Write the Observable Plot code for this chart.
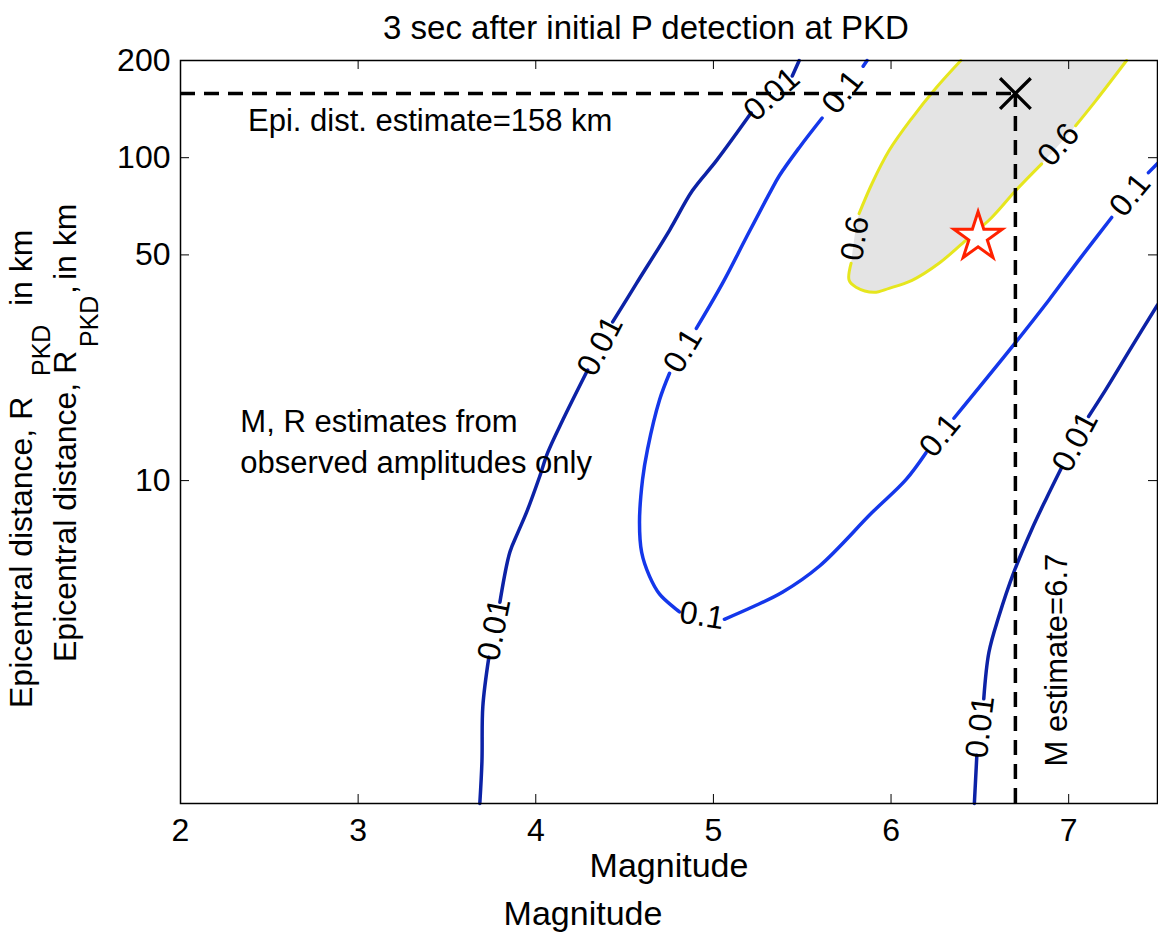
<!DOCTYPE html>
<html><head><meta charset="utf-8">
<script src="https://cdn.jsdelivr.net/npm/d3@7"></script>
<script src="https://cdn.jsdelivr.net/npm/@observablehq/plot@0.6"></script>
<style>body{margin:0;background:#fff;font-family:"Liberation Sans",Arial,Helvetica,sans-serif}</style>
</head><body><div id="chart"></div>
<script>
// ---------- data ----------
const titleText = "3 sec after initial P detection at PKD";
const xLabel = "Magnitude";
const xTicks = [2, 3, 4, 5, 6, 7];
const yTicks = [10, 50, 100, 200];
const xDomain = [2, 7.5];
const yDomain = [1, 200];

// contour polylines [magnitude, distance km]; null = gap where the level label sits
const contour001Left = [[3.685,1],[3.697,1.35],[3.702,2.0],[3.736,2.84],null,[3.798,4.2],[3.854,6.0],[3.899,6.9],[3.949,8.0],[4.022,10.3],[4.067,12.2],[4.152,15.4],[4.292,22.0],null,[4.433,31.0],[4.567,40.8],[4.753,59.6],[4.882,79.1],[5.017,97.9],[5.213,137.7],null,[5.444,179],[5.483,200]];
const contour01 = [[5.865,200],[5.843,192],null,[5.612,132.7],[5.483,107.4],[5.371,87.9],[5.315,77.4],[5.185,56.6],[5.051,40.8],[4.904,29.6],null,[4.753,21.5],[4.697,17.8],[4.629,12.5],[4.601,10.07],[4.584,7.42],[4.596,6.0],[4.640,5.06],[4.697,4.45],[4.809,3.92],null,[5.062,3.72],[5.219,4.06],[5.388,4.51],[5.596,5.43],[5.893,7.96],[6.084,10.07],[6.197,12.2],null,[6.354,15.6],[6.680,25.9],[6.888,36.2],[7.056,48.1],[7.242,65.3],null,[7.449,89.9],[7.5,96]];
const contour06 = [[6.393,200],[6.253,164.4],[6.118,132.7],[5.989,105.2],[5.893,83.2],[5.820,67.1],null,[5.775,47.1],[5.764,41.7],[5.803,39.7],[5.904,38.3],[5.989,39.4],[6.118,41.7],[6.270,47.1],[6.421,55.5],[6.567,65.3],[6.702,79.1],[6.848,95.7],null,[7.039,125.6],[7.152,150],[7.326,200]];
const contour001Right = [[6.469,1],[6.483,1.41],null,[6.522,2.11],[6.551,2.94],[6.607,3.80],[6.691,5.20],[6.792,7.06],[6.871,8.73],[6.961,11.0],null,[7.112,15.8],[7.208,19.1],[7.354,25.9],[7.5,35]];
const contourLevels = ["0.01", "0.1", "0.6", "0.01"];

const epiDist = 158;     // km
const magEst = 6.7;
const eventM = 6.49, eventR = 56.8;   // star

// ---------- layout ----------
const W = 1158, H = 935, mL = 180, mR = 1, mT = 60, mB = 132;
const plotW = W - mL - mR, plotH = H - mT - mB;
const font = "'Liberation Sans', Arial, Helvetica, sans-serif";

const xs = Plot.scale({x: {domain: xDomain, range: [mL, W - mR]}});
const ys = Plot.scale({y: {type: "log", domain: yDomain, range: [H - mB, mT]}});

const contours = [
  {pts: contour001Left, level: contourLevels[0], color: "#0c22a6"},
  {pts: contour01, level: contourLevels[1], color: "#1437ea"},
  {pts: contour06, level: contourLevels[2], color: "#e6e61e"},
  {pts: contour001Right, level: contourLevels[3], color: "#0c22a6"}
];

// label positions derived from gaps in each contour
const labels = [];
for (const c of contours) {
  c.pts.forEach((p, i) => {
    if (p !== null) return;
    const a = c.pts[i - 1], b = c.pts[i + 1];
    let ang = Math.atan2(ys.apply(b[1]) - ys.apply(a[1]), xs.apply(b[0]) - xs.apply(a[0])) * 180 / Math.PI;
    if (ang > 90) ang -= 180;
    if (ang < -90) ang += 180;
    labels.push({m: (a[0] + b[0]) / 2, r: Math.sqrt(a[1] * b[1]), text: c.level, angle: ang});
  });
}

const X = d => d ? d[0] : NaN;
const Y = d => d ? d[1] : NaN;

const chart = Plot.plot({
  width: W, height: H,
  marginLeft: mL, marginRight: mR, marginTop: mT, marginBottom: mB,
  style: {fontFamily: font, background: "white", color: "black", overflow: "visible"},
  x: {domain: xDomain},
  y: {type: "log", domain: yDomain},
  marks: [
    // gray fill of the 0.6 region
    Plot.line(contour06.filter(d => d), {x: X, y: Y, fill: "#e4e4e4", stroke: "none", curve: "catmull-rom"}),
    ...contours.map(c => Plot.line(c.pts, {x: X, y: Y, stroke: c.color, strokeWidth: c.level === "0.6" ? 3 : 3.5, strokeLinejoin: "round", curve: "catmull-rom"})),
    Plot.text(labels, {x: "m", y: "r", text: "text", rotate: "angle", fontSize: 32, fill: "black", textAnchor: "middle", lineAnchor: "middle"}),
    // estimate lines
    Plot.ruleY([epiDist], {x1: xDomain[0], x2: magEst, stroke: "black", strokeWidth: 3.5, strokeDasharray: "15,9"}),
    Plot.ruleX([magEst], {y1: yDomain[0], y2: epiDist, stroke: "black", strokeWidth: 3.5, strokeDasharray: "15,9"}),
    Plot.dot([[magEst, epiDist]], {x: X, y: Y, symbol: "times", r: 14, stroke: "black", strokeWidth: 3.3}),
    Plot.dot([[eventM, eventR]], {x: X, y: Y, symbol: "star", r: 15.2, stroke: "#ff2200", fill: "white", strokeWidth: 3}),
    // annotations
    Plot.text([`Epi. dist. estimate=${epiDist} km`], {x: 2.38, y: 130, textAnchor: "start", lineAnchor: "middle", fontSize: 31}),
    Plot.text(["M, R estimates from\nobserved amplitudes only"], {x: 2.337, y: 13.4, textAnchor: "start", lineAnchor: "middle", lineHeight: 1.32, fontSize: 31}),
    Plot.text([`M estimate=${magEst}`], {x: 6.933, y: 2.78, rotate: -90, textAnchor: "middle", lineAnchor: "middle", fontSize: 31}),
    // frame and inward ticks
    Plot.frame({stroke: "black", strokeWidth: 1.5}),
    Plot.ruleX(xTicks.slice(1), {stroke: "black", strokeWidth: 1, insetTop: plotH - 9}),
    Plot.ruleX(xTicks.slice(1), {stroke: "black", strokeWidth: 1, insetBottom: plotH - 9}),
    Plot.ruleY(yTicks.slice(0, -1), {stroke: "black", strokeWidth: 1, insetRight: plotW - 9}),
    Plot.ruleY(yTicks.slice(0, -1), {stroke: "black", strokeWidth: 1, insetLeft: plotW - 9}),
    // axes
    Plot.axisX({ticks: xTicks, tickSize: 0, tickPadding: 15, fontSize: 32, label: null, tickFormat: d => String(d)}),
    Plot.axisY({ticks: yTicks, tickSize: 0, tickPadding: 10, fontSize: 32, label: null, tickFormat: d => String(d)}),
    // titles
    Plot.text([titleText], {frameAnchor: "top", dx: -23, dy: -45, lineAnchor: "top", fontSize: 33}),
    Plot.text([xLabel], {frameAnchor: "bottom", dy: 49, lineAnchor: "top", fontSize: 34}),
    Plot.text([xLabel], {frameAnchor: "bottom", dx: -86, dy: 97, lineAnchor: "top", fontSize: 34})
  ]
});
document.getElementById("chart").appendChild(chart);

// y-axis labels (two overlapping versions, as in the original figure)
const svg = d3.select(chart);
const g = svg.append("g").attr("font-family", font).attr("fill", "black");
function piece(txt, x, y, size) {
  g.append("text").attr("transform", `translate(${x},${y}) rotate(-90)`)
    .attr("font-size", size).attr("text-anchor", "start").text(txt);
}
// outer label
piece("Epicentral distance, R", 32, 708, 32);
piece("PKD", 50, 376, 25);
piece("in km", 32, 306, 32);
// inner label
piece("Epicentral distance, R", 76, 662, 32);
piece("PKD", 98, 347, 25);
piece(",", 76, 294, 32);
piece("in km", 76, 280, 32);
</script>
</body></html>
